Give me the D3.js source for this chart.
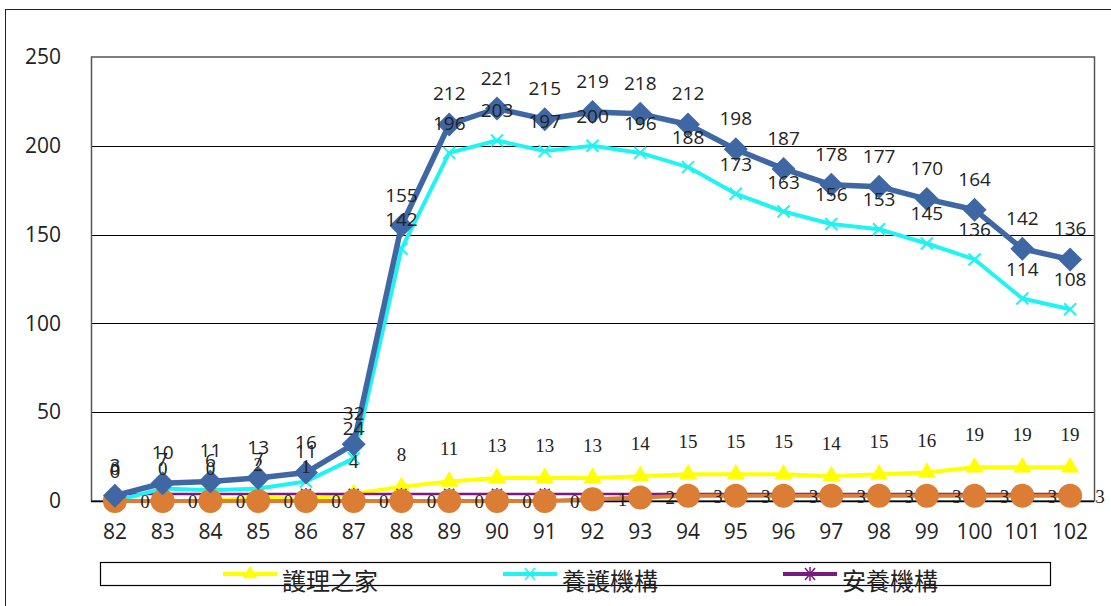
<!DOCTYPE html>
<html>
<head>
<meta charset="utf-8">
<script src="https://cdn.jsdelivr.net/npm/d3@7"></script>
<style>
  body { margin: 0; background: #fff; }
  svg { display: block; }
</style>
</head>
<body>
<script>
// years (民國)
const years = ["82","83","84","85","86","87","88","89","90","91","92","93","94","95","96","97","98","99","100","101","102"];

const nursingHome = [0,0,0,2,1,4,8,11,13,13,13,14,15,15,15,14,15,16,19,19,19];          // 護理之家
const careInst    = [0,7,6,7,11,24,142,196,203,197,200,196,188,173,163,156,153,145,136,114,108]; // 養護機構
const restInst    = [4,4,4,4,4,4,4,4,4,4,4,4,4,4,4,4,4,4,4,4,4];                            // 安養機構
const otherInst   = [0,0,0,0,0,0,0,0,0,0,1,2,3,3,3,3,3,3,3,3,3];
const totalInst   = [3,10,11,13,16,32,155,212,221,215,219,218,212,198,187,178,177,170,164,142,136];

const yTicks = [0, 50, 100, 150, 200, 250];
const legendNames = ["護理之家", "養護機構", "安養機構"];

const width = 1111, height = 606;
const svg = d3.select("body").append("svg")
    .attr("width", width)
    .attr("height", height);

// outer chart frame
svg.append("rect")
    .attr("x", 5.5).attr("y", 9.5)
    .attr("width", 1200).attr("height", 700)
    .attr("fill", "none").attr("stroke", "#222").attr("stroke-width", 1);

const plot = { left: 91, right: 1094, top: 57, bottom: 501 };

const x = d3.scaleBand().domain(years).range([plot.left, plot.right]).padding(0);
const y = d3.scaleLinear().domain([0, 250]).range([plot.bottom, plot.top]);
const cx = d => x(d) + x.bandwidth() / 2;

// gridlines
svg.append("g").selectAll("line")
    .data(yTicks.filter(t => t > 0 && t < 250))
    .enter().append("line")
    .attr("x1", plot.left).attr("x2", plot.right)
    .attr("y1", d => Math.round(y(d)) + 0.5).attr("y2", d => Math.round(y(d)) + 0.5)
    .attr("stroke", "#000").attr("stroke-width", 1);

// plot border
svg.append("rect")
    .attr("x", plot.left + 0.5).attr("y", plot.top)
    .attr("width", plot.right - plot.left).attr("height", plot.bottom - plot.top)
    .attr("fill", "none").attr("stroke", "#555").attr("stroke-width", 1.5);

// y axis labels
const yAxis = svg.append("g")
    .attr("transform", `translate(${plot.left - 30},0)`)
    .call(d3.axisLeft(y).tickValues(yTicks).tickSize(0).tickPadding(0));
yAxis.select(".domain").remove();
yAxis.selectAll("text")
    .attr("font-family", "Open Sans, sans-serif")
    .attr("font-size", 21).attr("fill", "#222");

// x axis labels
const xAxis = svg.append("g")
    .attr("transform", `translate(0,${plot.bottom + 23})`)
    .call(d3.axisBottom(x).tickSize(0).tickPadding(0));
xAxis.select(".domain").remove();
xAxis.selectAll("text")
    .attr("font-family", "Open Sans, sans-serif")
    .attr("font-size", 21).attr("fill", "#222");

// baseline
svg.append("line")
    .attr("x1", plot.left).attr("x2", plot.right)
    .attr("y1", plot.bottom + 0.5).attr("y2", plot.bottom + 0.5)
    .attr("stroke", "#000").attr("stroke-width", 1.5);

const line = d3.line().x((d, i) => cx(years[i])).y(d => y(d));

function drawSeries(values, color, w) {
    svg.append("path")
        .datum(values)
        .attr("d", line)
        .attr("fill", "none")
        .attr("stroke", color)
        .attr("stroke-width", w)
        .attr("stroke-linejoin", "round");
}

function drawLabels(values, dx, dy, font, color, anchor) {
    svg.append("g").selectAll("text")
        .data(values)
        .enter().append("text")
        .attr("x", (d, i) => cx(years[i]) + dx)
        .attr("y", d => y(d) + dy)
        .attr("text-anchor", anchor || "middle")
        .attr("font-family", font)
        .attr("font-size", 19)
        .attr("fill", color)
        .text(d => d);
}

// 護理之家 - yellow triangles
drawSeries(nursingHome, "#ffff00", 4);
svg.append("g").selectAll("path")
    .data(nursingHome).enter().append("path")
    .attr("transform", (d, i) => `translate(${cx(years[i])},${y(d)})`)
    .attr("d", d3.symbol(d3.symbolTriangle, 140))
    .attr("fill", "#ffff00");

// 安養機構 - purple stars
drawSeries(restInst, "#7a1a80", 2.5);
svg.append("g").selectAll("path")
    .data(restInst).enter().append("path")
    .attr("transform", (d, i) => `translate(${cx(years[i])},${y(d)})`)
    .attr("d", "M-5,-5L5,5M-5,5L5,-5M0,-6L0,6")
    .attr("stroke", "#7a1a80").attr("stroke-width", 1.5);

// 養護機構 - cyan crosses
drawSeries(careInst, "#1ff3f3", 4);
svg.append("g").selectAll("path")
    .data(careInst).enter().append("path")
    .attr("transform", (d, i) => `translate(${cx(years[i])},${y(d)})`)
    .attr("d", "M-6,-6L6,6M-6,6L6,-6")
    .attr("stroke", "#1ff3f3").attr("stroke-width", 2);

// orange circles
drawSeries(otherInst, "#dc7d35", 4);
svg.append("g").selectAll("circle")
    .data(otherInst).enter().append("circle")
    .attr("cx", (d, i) => cx(years[i]))
    .attr("cy", d => y(d))
    .attr("r", 12)
    .attr("fill", "#dc7d35");

// total - blue diamonds
drawSeries(totalInst, "#3f67a3", 5.5);
svg.append("g").selectAll("path")
    .data(totalInst).enter().append("path")
    .attr("transform", (d, i) => `translate(${cx(years[i])},${y(d)})`)
    .attr("d", "M0,-12L12,0L0,12L-12,0Z")
    .attr("fill", "#3f67a3");

// data labels
drawLabels(nursingHome, 0, -26, "Liberation Serif, serif", "#222");
drawLabels(careInst, 0, -23, "Open Sans, sans-serif", "#222");
drawLabels(totalInst, 0, -24, "Open Sans, sans-serif", "#222");
drawLabels(otherInst, 30, 7, "Liberation Serif, serif", "#222");

// legend
const legend = svg.append("g");
legend.append("rect")
    .attr("x", 100.5).attr("y", 562.5)
    .attr("width", 950).attr("height", 23)
    .attr("fill", "#fff").attr("stroke", "#000").attr("stroke-width", 1.2);

const legendColors = ["#ffff00", "#1ff3f3", "#7a1a80"];
const legendX = [223, 503, 783];
legendNames.forEach((name, i) => {
    const g = legend.append("g").attr("transform", `translate(${legendX[i]},574)`);
    g.append("line").attr("x1", 0).attr("x2", 54).attr("y1", 0).attr("y2", 0)
        .attr("stroke", legendColors[i]).attr("stroke-width", 4);
    if (i === 0) {
        g.append("path").attr("transform", "translate(27,0)")
            .attr("d", d3.symbol(d3.symbolTriangle, 90)).attr("fill", legendColors[i]);
    } else if (i === 1) {
        g.append("path").attr("d", "M22,-6L32,6M22,6L32,-6")
            .attr("stroke", legendColors[i]).attr("stroke-width", 1.5);
    } else {
        g.append("path").attr("d", "M22,-6L32,6M22,6L32,-6M27,-7L27,7")
            .attr("stroke", legendColors[i]).attr("stroke-width", 1.5);
    }
    g.append("text")
        .attr("x", 59).attr("y", 16)
        .attr("font-family", "Noto Sans CJK TC, sans-serif")
        .attr("font-size", 24)
        .attr("fill", "#222")
        .text(name);
});
</script>
</body>
</html>
